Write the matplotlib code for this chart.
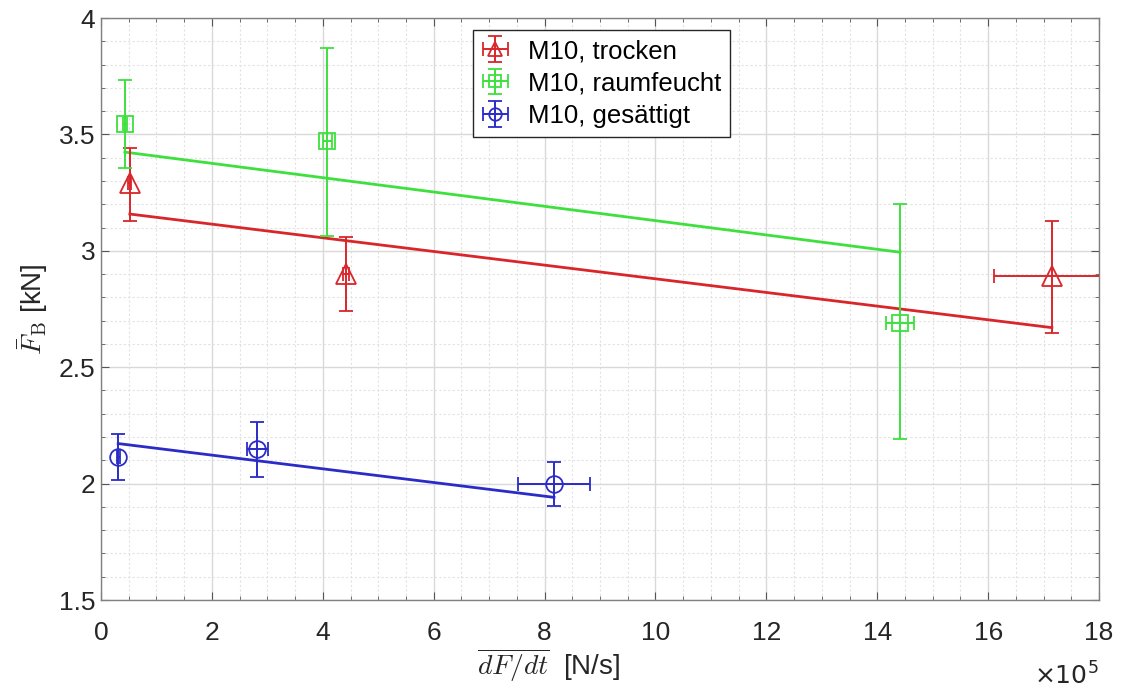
import matplotlib
matplotlib.use("Agg")
import matplotlib.pyplot as plt
from matplotlib.ticker import MultipleLocator, FuncFormatter
import numpy as np

plt.rcParams['font.family'] = ['Liberation Sans', 'DejaVu Sans']
plt.rcParams['mathtext.fontset'] = 'cm'

# Data (x in N/s, y in kN)
labels = ['M10, trocken', 'M10, raumfeucht', 'M10, gesättigt']
colors = ['#D8262B', '#3EE03E', '#2B2BC8']
markers = ['^', 's', 'o']

x_trocken = [0.52e5, 4.42e5, 17.15e5]
y_trocken = [3.29, 2.90, 2.89]
xerr_trocken = [0.03e5, 0.05e5, 1.04e5]
yerr_lo_trocken = [0.16, 0.16, 0.245]
yerr_hi_trocken = [0.15, 0.16, 0.24]

x_raum = [0.43e5, 4.08e5, 14.41e5]
y_raum = [3.545, 3.473, 2.69]
xerr_raum = [0.03e5, 0.08e5, 0.26e5]
yerr_lo_raum = [0.19, 0.41, 0.50]
yerr_hi_raum = [0.19, 0.40, 0.51]

x_gesaettigt = [0.31e5, 2.82e5, 8.17e5]
y_gesaettigt = [2.115, 2.149, 1.998]
xerr_gesaettigt = [0.03e5, 0.19e5, 0.645e5]
yerr_lo_gesaettigt = [0.10, 0.12, 0.094]
yerr_hi_gesaettigt = [0.10, 0.117, 0.096]

# fitted trend lines (start/end)
fit_x = [[0.52e5, 17.15e5], [0.43e5, 14.41e5], [0.31e5, 8.17e5]]
fit_y = [[3.158, 2.67], [3.424, 2.994], [2.172, 1.941]]

series = [
    (x_trocken, y_trocken, xerr_trocken, yerr_lo_trocken, yerr_hi_trocken),
    (x_raum, y_raum, xerr_raum, yerr_lo_raum, yerr_hi_raum),
    (x_gesaettigt, y_gesaettigt, xerr_gesaettigt, yerr_lo_gesaettigt, yerr_hi_gesaettigt),
]

fig = plt.figure(figsize=(11.21, 6.88), dpi=100)
ax = fig.add_axes([0.0901, 0.1279, 0.8903, 0.8459])

handles = []
for (x, y, xe, ylo, yhi), c, m, lab, fx, fy in zip(series, colors, markers, labels, fit_x, fit_y):
    h = ax.errorbar(x, y, xerr=xe, yerr=[ylo, yhi], fmt=m, color=c, mfc='none',
                    mec=c, ms=14 if m == '^' else 12, mew=1.3, elinewidth=1.4,
                    capsize=5, capthick=1.4, label=lab, zorder=3)
    handles.append(h)
    ax.plot(fx, fy, color=c, lw=2.0, zorder=2)

ax.set_xlim(0, 18e5)
ax.set_ylim(1.5, 4)
ax.xaxis.set_major_locator(MultipleLocator(2e5))
ax.xaxis.set_minor_locator(MultipleLocator(0.5e5))
ax.yaxis.set_major_locator(MultipleLocator(0.5))
ax.yaxis.set_minor_locator(MultipleLocator(0.1))
ax.xaxis.set_major_formatter(FuncFormatter(lambda v, p: f"{v / 1e5:g}"))
ax.yaxis.set_major_formatter(FuncFormatter(lambda v, p: f"{v:g}"))

ax.grid(which='major', color='#d9d9d9', lw=1.0, ls='-')
ax.grid(which='minor', color='#e2e2e2', lw=0.8, ls=(0, (2, 2)))
ax.set_axisbelow(True)

ax.tick_params(which='both', direction='in', top=True, right=True,
               colors='#555555', labelcolor='#262626', labelsize=19)
ax.tick_params(which='major', length=6)
ax.tick_params(which='minor', length=3)
ax.tick_params(axis='x', which='major', pad=15)
ax.tick_params(axis='y', which='major', pad=4)
for s in ax.spines.values():
    s.set_color('#808080')
    s.set_linewidth(1.0)

ax.set_xlabel(r'$\overline{dF/dt}$  [N/s]', fontsize=20, color='#262626')
ax.xaxis.set_label_coords(0.448, -0.079, transform=ax.transAxes)
ax.set_ylabel(r'$\bar{F}_{\mathrm{B}}$ [kN]', fontsize=20, color='#262626', labelpad=6)
ax.text(1.0, -0.13, r'$\times 10^{5}$', transform=ax.transAxes, ha='right',
        va='center', fontsize=18, color='#262626',
        math_fontfamily='dejavusans')

leg = ax.legend(handles=handles, loc='upper left', bbox_to_anchor=(0.3727, 0.979),
                borderaxespad=0, fontsize=18.5, frameon=True, fancybox=False,
                edgecolor='#262626', framealpha=1, handlelength=1.05,
                handletextpad=0.75, markerscale=0.75, borderpad=0.35,
                labelspacing=0.32)
leg.get_frame().set_linewidth(1.0)

fig.savefig('out.png', dpi=100)
